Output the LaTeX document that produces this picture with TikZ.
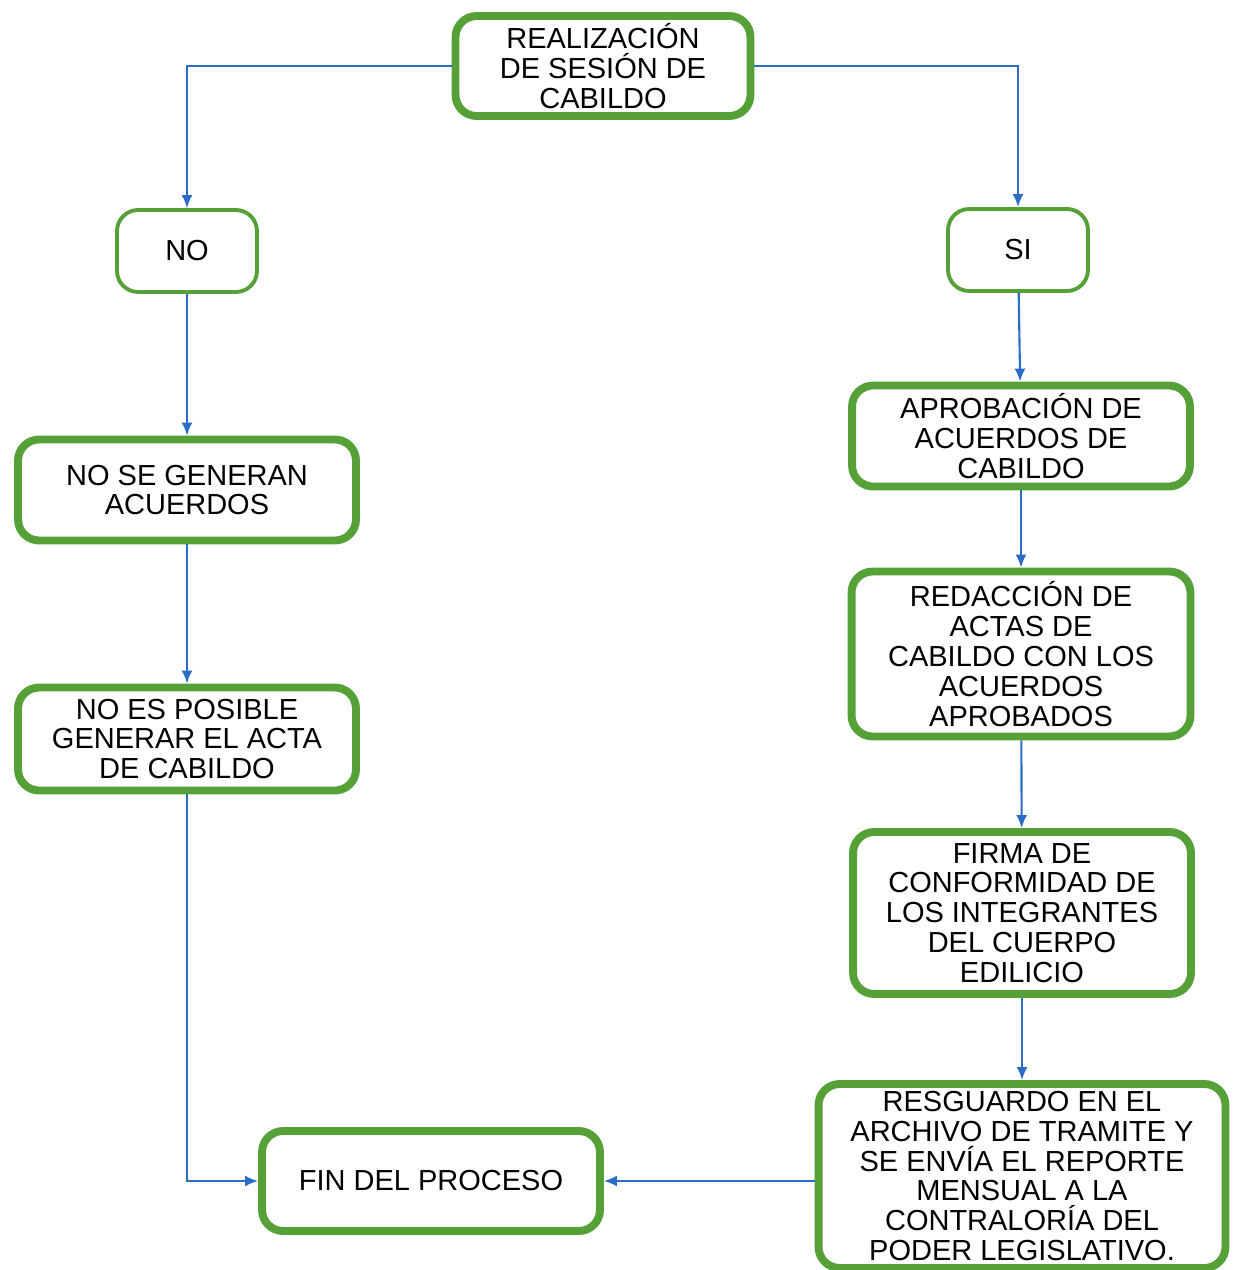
\documentclass[tikz,border=0pt]{standalone}
\usepackage{fontspec}
\setmainfont{Liberation Sans}
\usetikzlibrary{arrows.meta}
\definecolor{verde}{RGB}{86,160,56}
\definecolor{azul}{RGB}{42,108,200}
\tikzset{
  caja/.style={draw=verde,line width=4.5pt,rounded corners=12pt,fill=white,
    align=center,inner sep=0pt,font=\fontsize{16.5}{17}\selectfont},
  cajita/.style={caja,line width=2.2pt,minimum width=2.8cm,minimum height=1.64cm},
  flecha/.style={draw=azul,line width=1.2pt,-{Latex[length=2.6mm,width=2.2mm]}}
}
\begin{document}
\begin{tikzpicture}[x=0.02cm,y=-0.02cm]
			\useasboundingbox (0,0) rectangle (1232,1270);
			\node[caja,minimum width=5.9cm,minimum height=2cm] (sesion) at (603,66) {REALIZACIÓN\\DE SESIÓN DE\\CABILDO};
			\node[cajita] (no) at (187,251) {NO};
			\node[cajita] (si) at (1018,250) {SI};
			% rama del no
			\node[caja,minimum width=6.76cm,minimum height=2.02cm] (nogen) at (187,490) {NO SE GENERAN\\ACUERDOS};
			\node[caja,minimum width=6.76cm,minimum height=2.06cm] (noacta) at (187,739) {NO ES POSIBLE\\GENERAR EL ACTA\\DE CABILDO};
			\node[caja,minimum width=6.76cm,minimum height=2cm] (fin) at (431,1181) {FIN DEL PROCESO};
			% rama del si
			\node[caja,minimum width=6.76cm,minimum height=2.02cm] (aprob) at (1021,436) {APROBACIÓN DE\\ACUERDOS DE\\CABILDO};
			\node[caja,minimum width=6.78cm,minimum height=3.3cm] (redac) at (1021,654) {REDACCIÓN DE\\ACTAS DE\\CABILDO CON LOS\\ACUERDOS\\APROBADOS};
			\node[caja,minimum width=6.76cm,minimum height=3.24cm] (firma) at (1022,913) {FIRMA DE\\CONFORMIDAD DE\\LOS INTEGRANTES\\DEL CUERPO\\EDILICIO};
			\node[caja,minimum width=8.14cm,minimum height=3.68cm] (resg) at (1022,1176) {RESGUARDO EN EL\\ARCHIVO DE TRAMITE Y\\SE ENVÍA EL REPORTE\\MENSUAL A LA\\CONTRALORÍA DEL\\PODER LEGISLATIVO.};
			\draw[flecha] (sesion.west) -| (no.north);
			\draw[flecha] (sesion.east) -| (si.north);
			\draw[flecha] (no) -- (nogen);
			\draw[flecha] (nogen) -- (noacta);
			\draw[flecha] (noacta.south) |- (fin.west);
			\draw[flecha] (si) -- (aprob);
			\draw[flecha] (aprob) -- (redac);
			\draw[flecha] (redac) -- (firma);
			\draw[flecha] (firma) -- (resg);
			\draw[flecha] (resg.west |- fin.east) -- (fin.east);
		\end{tikzpicture}
\end{document}
